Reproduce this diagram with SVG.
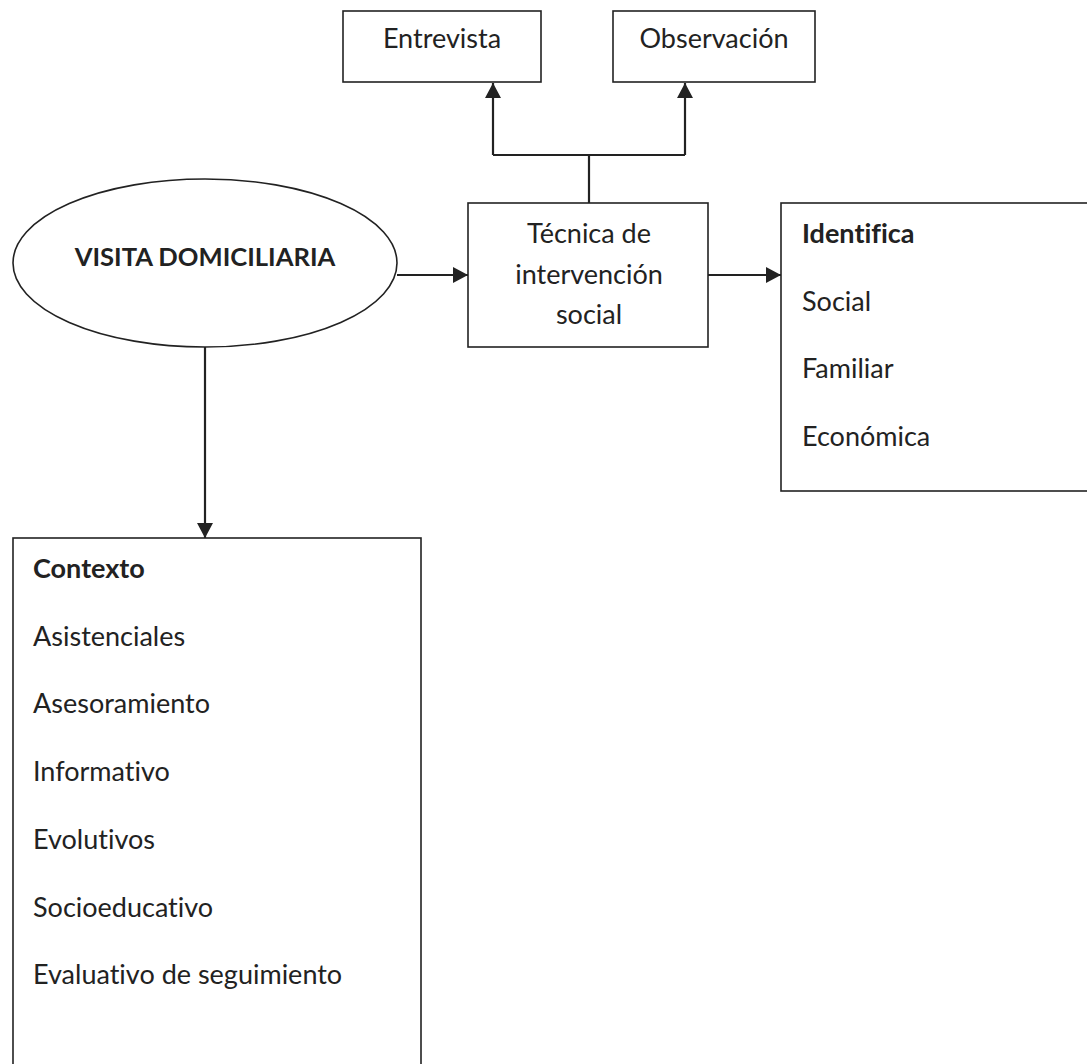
<svg xmlns="http://www.w3.org/2000/svg" width="1087" height="1064" viewBox="0 0 1087 1064">
<style>
.box{fill:#fff;stroke:#222;stroke-width:1.6}
.t{font-family:Lato,"Open Sans",sans-serif;font-size:27px;fill:#222;font-variant-ligatures:none;font-feature-settings:"liga" 0}
.b{font-weight:bold}
.c{text-anchor:middle}
.v{font-size:25.6px}
.ln{fill:none;stroke:#222;stroke-width:2.2}
</style>
<defs>
<marker id="ah2" markerWidth="15" markerHeight="16" refX="15" refY="8" orient="auto" markerUnits="userSpaceOnUse" viewBox="0 0 15 16">
<path d="M0,0 L15,8 L0,16 Z" fill="#222"/>
</marker>
</defs>
<rect width="1087" height="1064" fill="#fff"/>
<g id="connectors">
<path class="ln" d="M589,203 V155 M493,155 H685"/>
<path class="ln" d="M493,155 V83" marker-end="url(#ah2)"/>
<path class="ln" d="M685,155 V83" marker-end="url(#ah2)"/>
<path class="ln" d="M397,275 H468" marker-end="url(#ah2)"/>
<path class="ln" d="M708,275 H781" marker-end="url(#ah2)"/>
<path class="ln" d="M205,347 V538" marker-end="url(#ah2)"/>
</g>
<g id="entrevista">
<rect class="box" x="343" y="11" width="198" height="71"/>
<text class="t c" x="442" y="48">Entrevista</text>
</g>
<g id="observacion">
<rect class="box" x="613" y="11" width="202" height="71"/>
<text class="t c" x="714" y="48">Observación</text>
</g>
<g id="visita">
<ellipse class="box" cx="205" cy="263" rx="192" ry="84"/>
<text class="t b c v" x="205" y="266">VISITA DOMICILIARIA</text>
</g>
<g id="tecnica">
<rect class="box" x="468" y="203" width="240" height="144"/>
<text class="t c" x="589" y="243">Técnica de</text>
<text class="t c" x="589" y="284">intervención</text>
<text class="t c" x="589" y="324">social</text>
</g>
<g id="identifica">
<rect class="box" x="781" y="203" width="320" height="288"/>
<text class="t b" x="802" y="243">Identifica</text>
<text class="t" x="802" y="311">Social</text>
<text class="t" x="802" y="378">Familiar</text>
<text class="t" x="802" y="446">Económica</text>
</g>
<g id="contexto">
<rect class="box" x="13" y="538" width="408" height="540"/>
<text class="t b" x="33" y="578">Contexto</text>
<text class="t" x="33" y="646">Asistenciales</text>
<text class="t" x="33" y="713">Asesoramiento</text>
<text class="t" x="33" y="781">Informativo</text>
<text class="t" x="33" y="849">Evolutivos</text>
<text class="t" x="33" y="917">Socioeducativo</text>
<text class="t" x="33" y="984">Evaluativo de seguimiento</text>
</g>
</svg>
